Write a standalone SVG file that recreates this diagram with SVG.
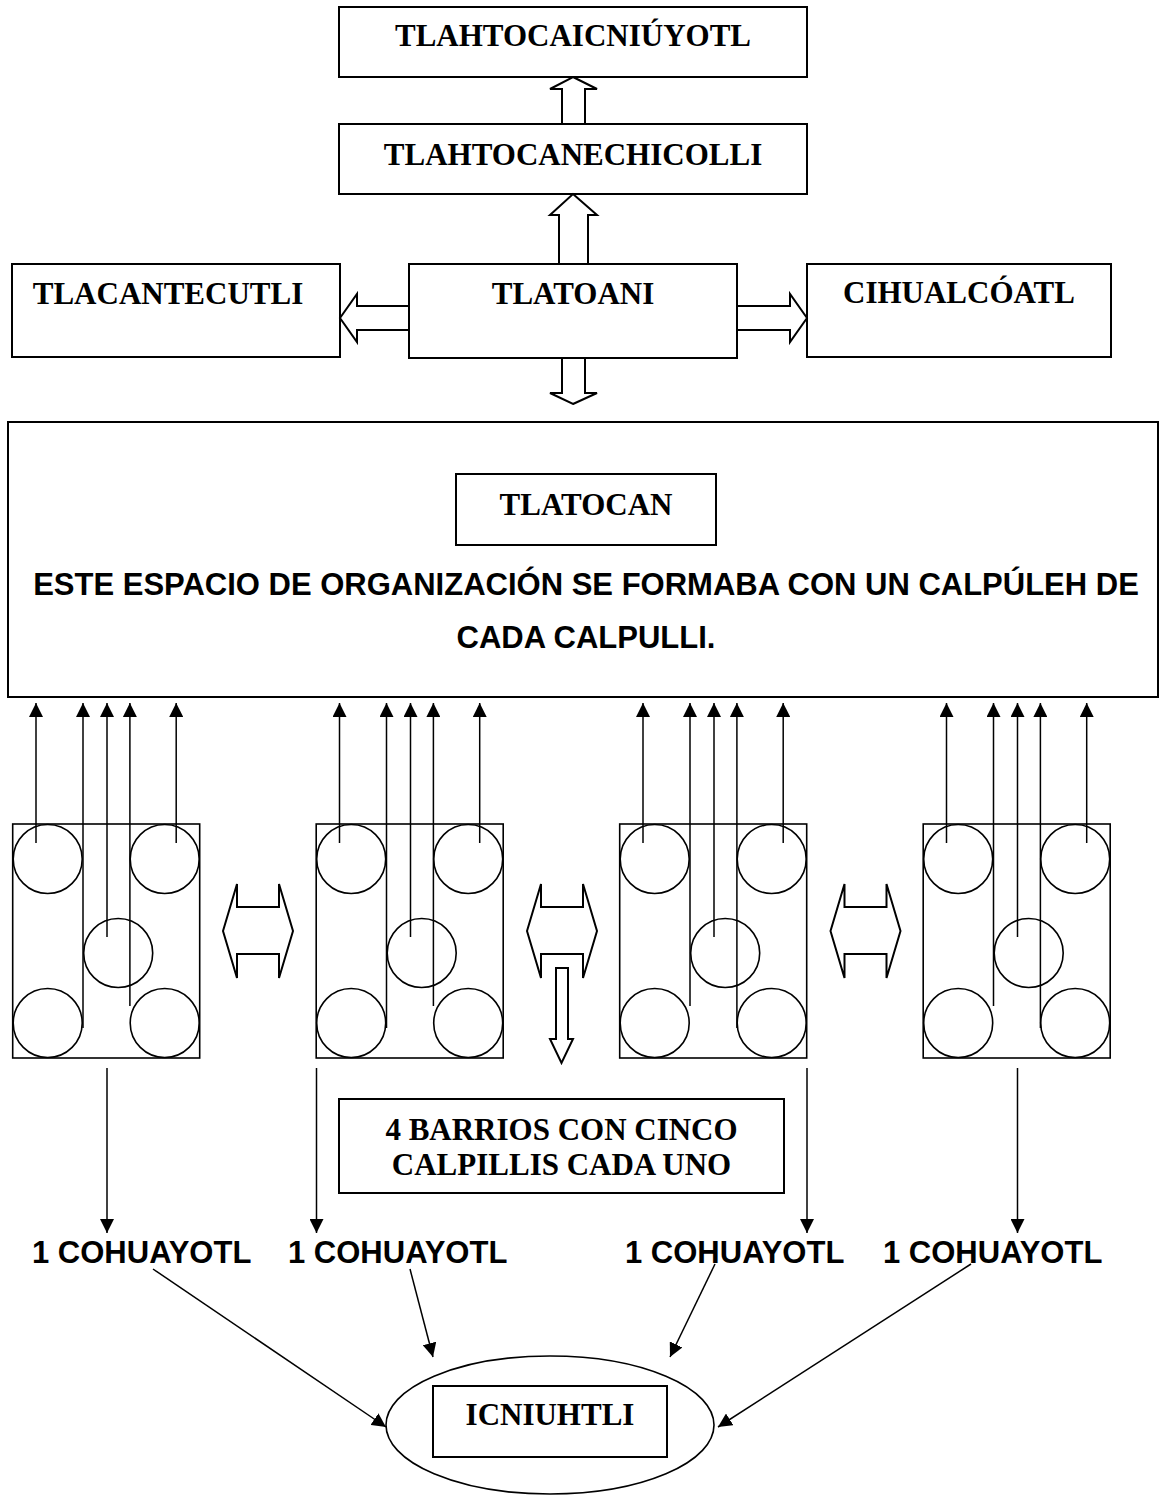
<svg xmlns="http://www.w3.org/2000/svg" width="1160" height="1495" viewBox="0 0 1160 1495">
<style>
.box{fill:#fff;stroke:#000;stroke-width:2}
.cir{fill:none;stroke:#000;stroke-width:1.6}
.ln{fill:none;stroke:#000;stroke-width:1.5}
.blk{fill:#fff;stroke:#000;stroke-width:2;stroke-linejoin:miter}
.t{font-family:"Liberation Serif","Times New Roman",serif;font-weight:bold;font-size:31px;fill:#000}
.a{font-family:"Liberation Sans",Arial,sans-serif;font-weight:bold;font-size:31px;fill:#000}
.m{text-anchor:middle}
</style>
<defs>
<marker id="ah" viewBox="0 0 14 14" refX="14" refY="7" markerWidth="14" markerHeight="14" markerUnits="userSpaceOnUse" orient="auto">
<path d="M0,0 L14,7 L0,14 z" fill="#000"/>
</marker>
<g id="calp">
<rect class="box" x="0" y="0" width="187" height="234" style="stroke-width:1.6"/>
<circle class="cir" cx="35" cy="35" r="34.5"/>
<circle class="cir" cx="152" cy="35" r="34.5"/>
<circle class="cir" cx="105.5" cy="129" r="34.5"/>
<circle class="cir" cx="35" cy="199" r="34.5"/>
<circle class="cir" cx="152" cy="199" r="34.5"/>
</g>
</defs>
<rect width="1160" height="1495" fill="#fff"/>

<g id="tlahtocaicniuyotl"><rect class="box" x="339" y="7" width="468" height="70"/><text class="t m" x="573" y="46">TLAHTOCAICNIÚYOTL</text></g>
<g id="tlahtocanechicolli"><rect class="box" x="339" y="124" width="468" height="70"/><text class="t m" x="573" y="165">TLAHTOCANECHICOLLI</text></g>
<g id="tlacantecutli"><rect class="box" x="12" y="264" width="328" height="93"/><text class="t m" x="168" y="304">TLACANTECUTLI</text></g>
<g id="tlatoani"><rect class="box" x="409" y="264" width="328" height="94"/><text class="t m" x="573" y="304">TLATOANI</text></g>
<g id="cihualcoatl"><rect class="box" x="807" y="264" width="304" height="93"/><text class="t m" x="959" y="303">CIHUALCÓATL</text></g>
<g id="tlatocan-space"><rect class="box" x="8" y="422" width="1150" height="275"/>
<text class="a m" x="586" y="595">ESTE ESPACIO DE ORGANIZACIÓN SE FORMABA CON UN CALPÚLEH DE</text>
<text class="a m" x="586" y="648">CADA CALPULLI.</text></g>
<g id="tlatocan"><rect class="box" x="456" y="474" width="260" height="71"/><text class="t m" x="586" y="515">TLATOCAN</text></g>

<g id="barrio1"><use href="#calp" x="12.7" y="824"/></g>
<g id="barrio2"><use href="#calp" x="316.2" y="824"/></g>
<g id="barrio3"><use href="#calp" x="619.7" y="824"/></g>
<g id="barrio4"><use href="#calp" x="923.2" y="824"/></g>

<g id="barrios-note"><rect class="box" x="339" y="1099" width="445" height="94"/>
<text class="t m" x="561.5" y="1140">4 BARRIOS CON CINCO</text>
<text class="t m" x="561.5" y="1175">CALPILLIS CADA UNO</text></g>

<g id="cohuayotl1"><text class="a" x="32" y="1263">1 COHUAYOTL</text></g>
<g id="cohuayotl2"><text class="a" x="288" y="1263">1 COHUAYOTL</text></g>
<g id="cohuayotl3"><text class="a" x="625" y="1263">1 COHUAYOTL</text></g>
<g id="cohuayotl4"><text class="a" x="883" y="1263">1 COHUAYOTL</text></g>

<g id="icniuhtli"><ellipse cx="550" cy="1425" rx="164" ry="69" class="cir"/>
<rect class="box" x="433" y="1386" width="234" height="71"/><text class="t m" x="550" y="1425">ICNIUHTLI</text></g>

<g id="connectors">
<polygon class="blk" points="573,77 597,89 585,89 585,124 562,124 562,89 550,89"/>
<polygon class="blk" points="573,194 597,215 588,215 588,264 559,264 559,215 550,215"/>
<polygon class="blk" points="340,318 357,294 357,306 409,306 409,330 357,330 357,342"/>
<polygon class="blk" points="807,318 790,294 790,306 737,306 737,330 790,330 790,342"/>
<polygon class="blk" points="573,404 597,393 585,393 585,358 562,358 562,393 550,393"/>

<g class="ln" marker-end="url(#ah)">
<line x1="36" y1="843" x2="36" y2="703"/>
<line x1="83" y1="1028" x2="83" y2="703"/>
<line x1="107" y1="937" x2="107" y2="703"/>
<line x1="129.9" y1="1006" x2="129.9" y2="703"/>
<line x1="176.2" y1="843" x2="176.2" y2="703"/>

<line x1="339.5" y1="843" x2="339.5" y2="703"/>
<line x1="386.5" y1="1028" x2="386.5" y2="703"/>
<line x1="410.5" y1="937" x2="410.5" y2="703"/>
<line x1="433.4" y1="1006" x2="433.4" y2="703"/>
<line x1="479.7" y1="843" x2="479.7" y2="703"/>

<line x1="643" y1="843" x2="643" y2="703"/>
<line x1="690" y1="1006" x2="690" y2="703"/>
<line x1="714" y1="937" x2="714" y2="703"/>
<line x1="736.9" y1="1028" x2="736.9" y2="703"/>
<line x1="783.2" y1="843" x2="783.2" y2="703"/>

<line x1="946.5" y1="843" x2="946.5" y2="703"/>
<line x1="993.5" y1="1006" x2="993.5" y2="703"/>
<line x1="1017.5" y1="937" x2="1017.5" y2="703"/>
<line x1="1040.4" y1="1028" x2="1040.4" y2="703"/>
<line x1="1086.7" y1="843" x2="1086.7" y2="703"/>

<line x1="107" y1="1068" x2="107" y2="1233"/>
<line x1="316.5" y1="1068" x2="316.5" y2="1233"/>
<line x1="807" y1="1068" x2="807" y2="1233"/>
<line x1="1017.5" y1="1068" x2="1017.5" y2="1233"/>

<line x1="153" y1="1269" x2="386" y2="1427"/>
<line x1="410" y1="1269" x2="433" y2="1357"/>
<line x1="715" y1="1264" x2="670" y2="1357"/>
<line x1="971" y1="1264" x2="718" y2="1427"/>
</g>

<polygon class="blk" points="223,931 237,884 237,907 279,907 279,884 293,931 279,978 279,954 237,954 237,978"/>
<polygon class="blk" points="527,931 541,884 541,907 583,907 583,884 597,931 583,978 583,954 541,954 541,978"/>
<polygon class="blk" points="830.5,931 844.5,884 844.5,907 886.5,907 886.5,884 900.5,931 886.5,978 886.5,954 844.5,954 844.5,978"/>
<polygon class="blk" points="556,968 568,968 568,1039 573,1039 561.5,1063 550,1039 556,1039"/>
</g>
</svg>
